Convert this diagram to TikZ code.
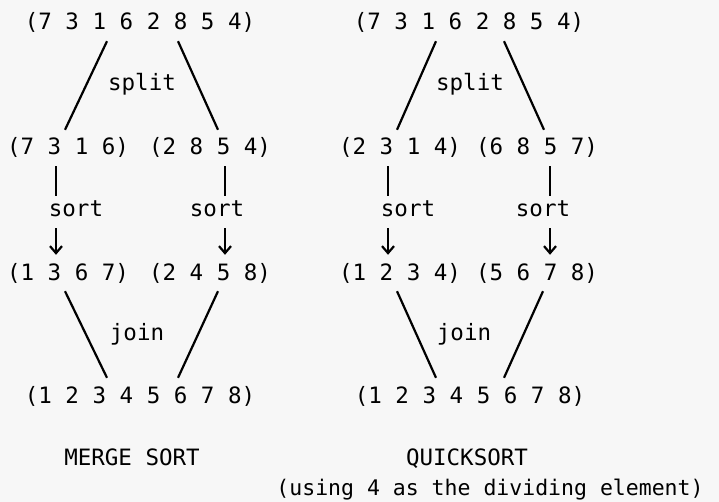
\documentclass[tikz,border=0pt]{standalone}
\usepackage{fontspec}
\setmonofont{DejaVu Sans Mono}
\usetikzlibrary{arrows.meta}

\begin{document}
\begin{tikzpicture}[x=1pt, y=-1pt,
    % Node styles
    tuple/.style={
        font=\ttfamily\fontsize{22.5pt}{27pt}\selectfont, anchor=base,
        inner xsep=0pt, inner ysep=8pt, text height=17pt, text depth=3pt
    },
    oplabel/.style={
        font=\ttfamily\fontsize{22.5pt}{27pt}\selectfont, anchor=base,
        inner xsep=0pt, inner ysep=6pt, text height=15pt, text depth=5pt
    },
    caption/.style={
        font=\ttfamily\fontsize{22.5pt}{27pt}\selectfont, anchor=base, inner sep=0pt
    },
    link/.style={
        line width=2.2pt, black
    },
    arrow/.style={
        link, -{Straight Barb[length=7pt, width=12pt]}
    }
]

\fill[black!3] (0,0) rectangle (719,502);
\useasboundingbox (0,0) rectangle (719,502);

% --- Merge sort nodes ---
\node[tuple] (msTop) at (140,30) {(7 3 1 6 2 8 5 4)};
\node[oplabel] (msSplit) at (142,91) {split};
\node[tuple] (msA) at (68,155) {(7 3 1 6)};
\node[tuple] (msB) at (210,155) {(2 8 5 4)};
\node[oplabel] (msSortA) at (76,217) {sort};
\node[oplabel] (msSortB) at (217,217) {sort};
\node[tuple] (msC) at (68,280) {(1 3 6 7)};
\node[tuple] (msD) at (210,280) {(2 4 5 8)};
\node[oplabel] (msJoin) at (137,340) {join};
\node[tuple] (msEnd) at (140,403) {(1 2 3 4 5 6 7 8)};
\node[caption] (msTitle) at (132,465) {MERGE SORT};

% --- Quicksort nodes ---
\node[tuple] (qsTop) at (469,30) {(7 3 1 6 2 8 5 4)};
\node[oplabel] (qsSplit) at (470,91) {split};
\node[tuple] (qsA) at (400,155) {(2 3 1 4)};
\node[tuple] (qsB) at (537,155) {(6 8 5 7)};
\node[oplabel] (qsSortA) at (408,217) {sort};
\node[oplabel] (qsSortB) at (543,217) {sort};
\node[tuple] (qsC) at (400,280) {(1 2 3 4)};
\node[tuple] (qsD) at (537,280) {(5 6 7 8)};
\node[oplabel] (qsJoin) at (464,340) {join};
\node[tuple] (qsEnd) at (470,403) {(1 2 3 4 5 6 7 8)};
\node[caption] (qsTitle) at (467,465) {QUICKSORT};
\node[caption, font=\ttfamily\fontsize{21.5pt}{26pt}\selectfont] (qsNote) at (490,495)
    {(using 4 as the dividing element)};

% --- Merge sort links ---
\draw[link] ([xshift=-33]msTop.south) -- ([xshift=-3]msA.north);
\draw[link] ([xshift=38]msTop.south) -- ([xshift=8]msB.north);
\draw[link] ([xshift=-12]msA.south) -- ([xshift=-12]msA.south |- msSortA.north);
\draw[link] ([xshift=15]msB.south) -- ([xshift=15]msB.south |- msSortB.north);
\draw[arrow] ([xshift=-12]msC.north |- msSortA.south) -- ([xshift=-12]msC.north);
\draw[arrow] ([xshift=15]msD.north |- msSortB.south) -- ([xshift=15]msD.north);
\draw[link] ([xshift=-3]msC.south) -- ([xshift=-33]msEnd.north);
\draw[link] ([xshift=8]msD.south) -- ([xshift=38]msEnd.north);

% --- Quicksort links ---
\draw[link] ([xshift=-33]qsTop.south) -- ([xshift=-3]qsA.north);
\draw[link] ([xshift=35]qsTop.south) -- ([xshift=7]qsB.north);
\draw[link] ([xshift=-12]qsA.south) -- ([xshift=-12]qsA.south |- qsSortA.north);
\draw[link] ([xshift=13]qsB.south) -- ([xshift=13]qsB.south |- qsSortB.north);
\draw[arrow] ([xshift=-12]qsC.north |- qsSortA.south) -- ([xshift=-12]qsC.north);
\draw[arrow] ([xshift=13]qsD.north |- qsSortB.south) -- ([xshift=13]qsD.north);
\draw[link] ([xshift=-3]qsC.south) -- ([xshift=-34]qsEnd.north);
\draw[link] ([xshift=6]qsD.south) -- ([xshift=34]qsEnd.north);

\end{tikzpicture}
\end{document}
